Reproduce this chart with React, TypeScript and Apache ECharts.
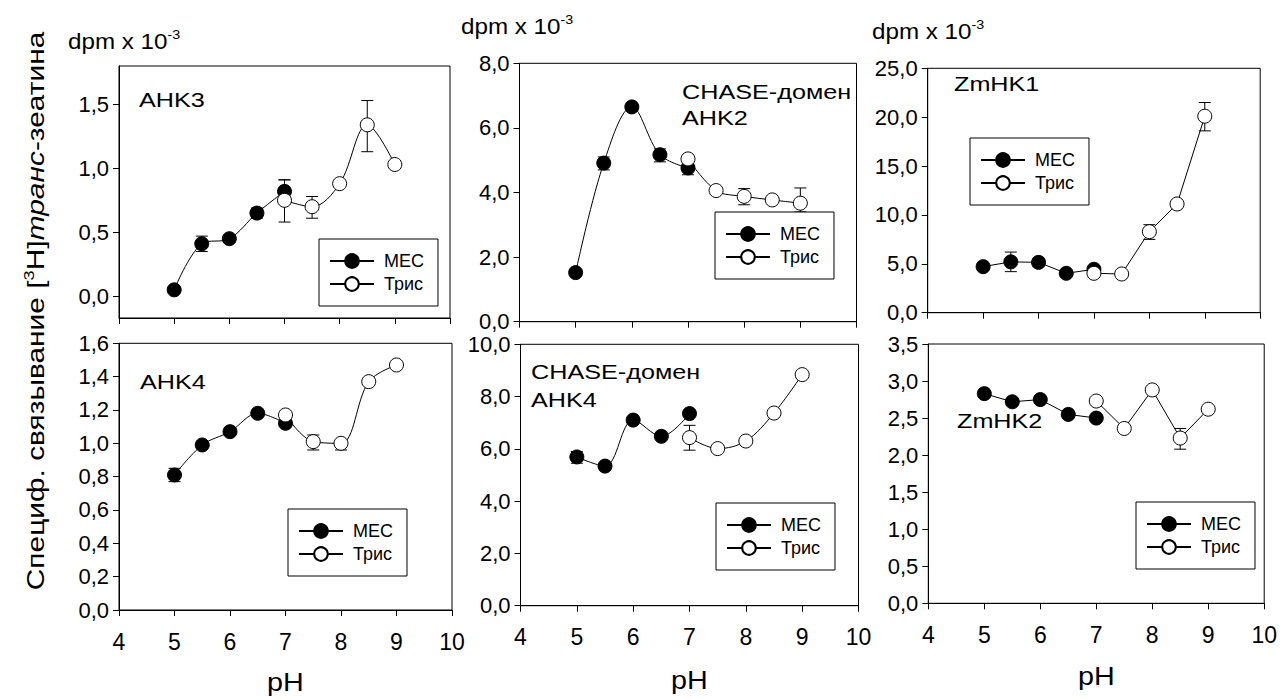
import React, { useEffect, useRef } from 'react';
import * as echarts from 'echarts';

// ---- data ----
const mesPH = [5, 5.5, 6, 6.5, 7];
const trisPH = [7, 7.5, 8, 8.5, 9];

const ahk3Mes = [0.05, 0.41, 0.45, 0.65, 0.82];
const ahk3Tris = [0.75, 0.7, 0.88, 1.34, 1.03];
const ahk3Err = [[5.5, 0.35, 0.47], [6.5, 0.61, 0.69], [7, 0.74, 0.91], [7, 0.58, 0.91], [7.5, 0.61, 0.78], [8.5, 1.13, 1.53]];

const chaseAhk2Mes = [1.52, 4.91, 6.65, 5.17, 4.76];
const chaseAhk2Tris = [5.04, 4.06, 3.88, 3.77, 3.67];
const chaseAhk2Err = [[5.5, 4.7, 5.1], [6.5, 4.95, 5.35], [7, 4.55, 4.95], [8, 3.62, 4.12], [9, 3.4, 4.14]];

const zmhk1Mes = [4.71, 5.2, 5.15, 4.03, 4.44];
const zmhk1Tris = [4.03, 3.96, 8.29, 11.12, 20.1];
const zmhk1Err = [[5.5, 4.2, 6.2], [6, 4.7, 5.5], [8, 7.5, 9.0], [9, 18.6, 21.5]];

const ahk4Mes = [0.81, 0.99, 1.07, 1.18, 1.12];
const ahk4Tris = [1.17, 1.01, 1.0, 1.37, 1.47];
const ahk4Err = [[5, 0.77, 0.85], [7.5, 0.96, 1.05], [8, 0.96, 1.02]];

const chaseAhk4Mes = [5.69, 5.34, 7.1, 6.48, 7.35];
const chaseAhk4Tris = [6.43, 6.01, 6.3, 7.37, 8.84];
const chaseAhk4Err = [[5, 5.45, 5.9], [7, 5.95, 6.9]];

const zmhk2Mes = [2.83, 2.72, 2.75, 2.55, 2.5];
const zmhk2Tris = [2.73, 2.36, 2.88, 2.23, 2.62];
const zmhk2Err = [[8.5, 2.08, 2.36]];

const ahk3YTicks = [0, 0.5, 1.0, 1.5];

const seriesNames = ['MEC', 'Трис'];
const panelTitles = [['AHK3'], ['CHASE-домен', 'AHK2'], ['ZmHK1'], ['AHK4'], ['CHASE-домен', 'AHK4'], ['ZmHK2']];

const panelData = [
  { mes: ahk3Mes, tris: ahk3Tris, err: ahk3Err },
  { mes: chaseAhk2Mes, tris: chaseAhk2Tris, err: chaseAhk2Err },
  { mes: zmhk1Mes, tris: zmhk1Tris, err: zmhk1Err },
  { mes: ahk4Mes, tris: ahk4Tris, err: ahk4Err },
  { mes: chaseAhk4Mes, tris: chaseAhk4Tris, err: chaseAhk4Err },
  { mes: zmhk2Mes, tris: zmhk2Tris, err: zmhk2Err },
];

// ---- layout ----
const FONT = 'Liberation Sans, Arial, sans-serif';
const layouts = [
  { left: 119, top: 66, width: 331, height: 252, ymin: -0.17, ymax: 1.8, yint: 0.5, custom: true, smooth: true, legend: [319, 239], title: [[139, 100]], xl: false },
  { left: 519.5, top: 63.3, width: 337, height: 258.4, ymin: 0, ymax: 8, yint: 2, smooth: true, legend: [715, 212], title: [[682, 92], [682, 118]], xl: false },
  { left: 927.7, top: 68.3, width: 332.5, height: 244.4, ymin: 0, ymax: 25, yint: 5, smooth: false, legend: [970, 138], title: [[954, 84]], xl: false },
  { left: 119, top: 343.3, width: 333, height: 266.7, ymin: 0, ymax: 1.6, yint: 0.2, smooth: true, legend: [288, 509], title: [[140, 382]], xl: true },
  { left: 520.5, top: 344.3, width: 338, height: 261.4, ymin: 0, ymax: 10, yint: 2, smooth: true, legend: [716, 503], title: [[531, 372], [531, 400]], xl: true },
  { left: 928.3, top: 344, width: 336, height: 259.3, ymin: 0, ymax: 3.5, yint: 0.5, smooth: false, legend: [1136, 502], title: [[957, 421]], xl: true },
];
const pHY = [0, 0, 0, 683, 681, 677];

const fmt = (v: number) => v.toFixed(1).replace('.', ',');

function buildOption() {
  const grid: any[] = [];
  const xAxis: any[] = [];
  const yAxis: any[] = [];
  const series: any[] = [];
  const legend: any[] = [];
  const graphic: any[] = [];

  layouts.forEach((L, i) => {
    grid.push({ left: L.left, top: L.top, width: L.width, height: L.height, show: true, borderColor: '#000', borderWidth: 1, containLabel: false });
    xAxis.push({
      gridIndex: i, type: 'value', min: 4, max: 10, interval: 1,
      axisLine: { show: true, onZero: false, lineStyle: { color: '#000', width: 1 } },
      axisTick: { show: true, inside: false, length: 6, lineStyle: { color: '#000' } },
      axisLabel: { show: L.xl, color: '#000', fontSize: 23, fontFamily: FONT, margin: 20 },
      splitLine: { show: false },
    });
    const y: any = {
      gridIndex: i, type: 'value', min: L.ymin, max: L.ymax,
      axisLine: { show: true, onZero: false, lineStyle: { color: '#000', width: 1 } },
      axisTick: { show: true, inside: false, length: 6, lineStyle: { color: '#000' } },
      axisLabel: { color: '#000', fontSize: 22, fontFamily: FONT, margin: 10, formatter: fmt, showMinLabel: true, showMaxLabel: true },
      splitLine: { show: false },
    };
    if (L.custom) {
      y.axisLabel.customValues = ahk3YTicks;
      y.axisTick.customValues = ahk3YTicks;
    } else {
      y.interval = L.yint;
    }
    yAxis.push(y);

    const D = panelData[i];
    series.push({
      type: 'custom', xAxisIndex: i, yAxisIndex: i, silent: true,
      data: D.err, encode: { x: 0, y: [1, 2] },
      renderItem: (params: any, api: any) => {
        const x = api.value(0);
        const lo = api.coord([x, api.value(1)]);
        const hi = api.coord([x, api.value(2)]);
        const w = 6;
        const st = { stroke: '#000', lineWidth: 1 };
        return {
          type: 'group',
          children: [
            { type: 'line', shape: { x1: hi[0], y1: hi[1], x2: lo[0], y2: lo[1] }, style: st },
            { type: 'line', shape: { x1: hi[0] - w, y1: hi[1], x2: hi[0] + w, y2: hi[1] }, style: st },
            { type: 'line', shape: { x1: lo[0] - w, y1: lo[1], x2: lo[0] + w, y2: lo[1] }, style: st },
          ],
        };
      },
    });
    series.push({
      name: seriesNames[0], type: 'line', xAxisIndex: i, yAxisIndex: i,
      data: mesPH.map((p, k) => [p, D.mes[k]]),
      smooth: L.smooth ? 0.35 : false,
      symbol: 'circle', symbolSize: 14,
      lineStyle: { color: '#000', width: 1 },
      itemStyle: { color: '#000', borderColor: '#000', borderWidth: 1 },
    });
    series.push({
      name: seriesNames[1], type: 'line', xAxisIndex: i, yAxisIndex: i,
      data: trisPH.map((p, k) => [p, D.tris[k]]),
      smooth: L.smooth ? 0.35 : false,
      symbol: 'circle', symbolSize: 14,
      lineStyle: { color: '#000', width: 1 },
      itemStyle: { color: '#fff', borderColor: '#000', borderWidth: 1 },
    });
    legend.push({
      orient: 'vertical', left: L.legend[0], top: L.legend[1],
      padding: [13, 14, 13, 10], itemWidth: 44, itemHeight: 17, itemGap: 5,
      borderColor: '#000', borderWidth: 1, backgroundColor: '#fff',
      selectedMode: false, data: seriesNames,
      textStyle: { fontSize: 18, fontFamily: FONT, color: '#000', padding: [0, 0, 0, 5] },
    });
    panelTitles[i].forEach((t, k) => {
      graphic.push({
        type: 'text', x: L.title[k][0], y: L.title[k][1], scaleX: 1.2,
        style: { text: t, fontSize: 21, fontFamily: FONT, fill: '#000', align: 'left', verticalAlign: 'middle' },
      });
    });
    if (L.xl) {
      graphic.push({
        type: 'text', x: L.left + L.width / 2, y: pHY[i], scaleX: 1.15,
        style: { text: 'pH', fontSize: 25, fontFamily: FONT, fill: '#000', align: 'center', verticalAlign: 'middle' },
      });
    }
  });

  const dpm = [[68, 41], [461, 26], [872, 31]];
  dpm.forEach(([x, y]) => {
    graphic.push({
      type: 'text', x, y, scaleX: 1.1,
      style: {
        text: '{a|dpm x 10}{s|-3}', align: 'left', verticalAlign: 'middle',
        rich: {
          a: { fontSize: 22, fontFamily: FONT, fill: '#000', lineHeight: 26 },
          s: { fontSize: 13, fontFamily: FONT, fill: '#000', verticalAlign: 'top', lineHeight: 14 },
        },
      },
    });
  });

  graphic.push({
    type: 'text', x: 36, y: 311, rotation: Math.PI / 2, scaleX: 1.3,
    style: {
      text: '{a|Специф. связывание [}{s|3}{a|H]}{i|транс}{a|-зеатина}', align: 'center', verticalAlign: 'middle',
      rich: {
        a: { fontSize: 23, fontFamily: FONT, fill: '#000', lineHeight: 28 },
        s: { fontSize: 14, fontFamily: FONT, fill: '#000', verticalAlign: 'top', lineHeight: 16 },
        i: { fontSize: 23, fontFamily: FONT, fontStyle: 'italic', fill: '#000', lineHeight: 28 },
      },
    },
  });

  return { animation: false, backgroundColor: '#fff', grid, xAxis, yAxis, series, legend, graphic };
}

export default function App() {
  const ref = useRef<HTMLDivElement>(null);
  useEffect(() => {
    document.body.style.margin = '0';
    if (!ref.current) return;
    const chart = echarts.init(ref.current, undefined, { renderer: 'svg' });
    chart.setOption(buildOption());
    return () => chart.dispose();
  }, []);
  return <div ref={ref} style={{ width: 1280, height: 699 }} />;
}
